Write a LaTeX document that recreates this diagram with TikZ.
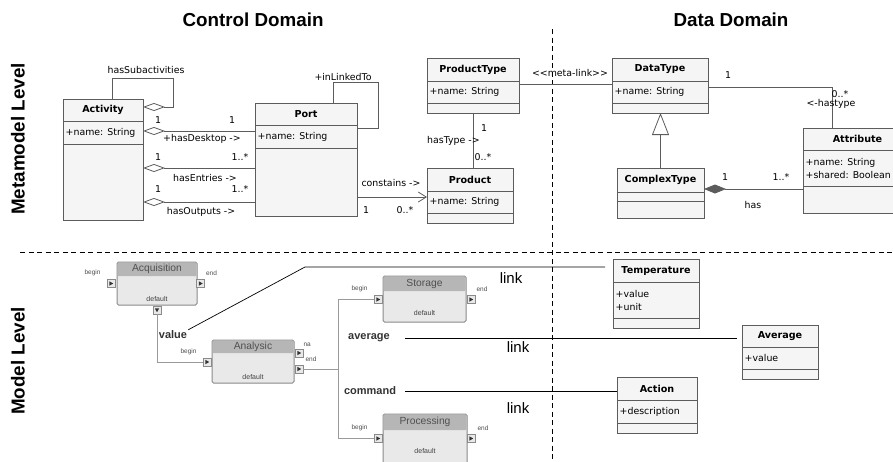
\documentclass[tikz,border=0pt]{standalone}
\usepackage{fontspec}
\setmainfont{DejaVu Sans}
\newfontfamily\arialfont{Liberation Sans}
\usetikzlibrary{arrows.meta,calc,fit}

\definecolor{umlline}{HTML}{5C5C5C}
\definecolor{umlfill}{HTML}{F5F5F5}
\definecolor{proctop}{HTML}{B6B6B6}
\definecolor{procbody}{HTML}{E9E9E9}
\definecolor{procedge}{HTML}{8A8A8A}
\definecolor{proctext}{HTML}{505050}
\definecolor{flowline}{HTML}{9A9A9A}

\newcommand\umltextstyle{\fontsize{9.4}{13}\selectfont}
\newcommand\umltitlestyle{\fontsize{9.6}{12}\selectfont\bfseries}
\newcommand\headstyle{\arialfont\fontsize{18.8}{20}\selectfont\bfseries}

\tikzset{
  classbox/.style={draw=umlline, line width=0.9pt},
  classtitle/.style={font=\umltitlestyle, inner sep=0pt},
  classattr/.style={font=\umltextstyle, align=left, inner sep=2.5pt, anchor=west},
  assoc/.style={draw=umlline, line width=0.8pt},
  aggr/.style={assoc, {Diamond[open,length=22pt,width=8pt]}-},
  compo/.style={assoc, {Diamond[length=22pt,width=9pt]}-},
  gener/.style={assoc, -{Triangle[open,length=22pt,width=17pt]}},
  navig/.style={assoc, -{Straight Barb[length=8pt,width=10pt]}},
  lbl/.style={font=\umltextstyle, inner sep=0pt},
  divider/.style={line width=0.9pt, dash pattern=on 5pt off 3.5pt},
  domaintitle/.style={font=\headstyle, inner sep=0pt},
  proctitle/.style={font=\arialfont\fontsize{10.3}{12}\selectfont, text=proctext, inner sep=0pt},
  procsmall/.style={font=\arialfont\fontsize{7}{8}\selectfont, text=black!75, inner sep=0pt},
  portlbl/.style={font=\arialfont\fontsize{6.5}{7}\selectfont, text=black!70, inner sep=0pt},
  portbox/.style={draw=procedge, fill=procbody, line width=0.7pt, minimum size=8pt, inner sep=0pt},
  flow/.style={draw=flowline, line width=1pt},
  linkline/.style={draw=black, line width=0.7pt},
  modellbl/.style={font=\arialfont\fontsize{11}{12}\selectfont\bfseries, text=black!80, inner sep=1pt},
  linklbl/.style={font=\arialfont\fontsize{15}{16}\selectfont, inner sep=0pt},
}

% name, left, top, right, title bottom, attribute bottom, bottom, title, attributes
\newcommand\umlclass[9]{
  \filldraw[classbox, fill=umlfill] (#2,#3) rectangle (#4,#7);
  \draw[classbox] (#2,#5) -- (#4,#5) (#2,#6) -- (#4,#6);
  \coordinate (#1-nw) at (#2,#3);
  \coordinate (#1-se) at (#4,#7);
  \node[fit=(#1-nw)(#1-se), inner sep=0pt, outer sep=0pt] (#1) {};
  \node[classtitle] (#1-title) at ({(#2+#4)/2},{(#3+#5)/2}) {#8};
  \node[classattr] (#1-attr) at (#2,{(#5+#6)/2}) {#9};
}

% name, left, top, right, head bottom, bottom, title
\newcommand\procbox[7]{
  \filldraw[fill=procbody, draw=procedge, line width=1pt, rounded corners=1.5pt] (#2,#3) rectangle (#4,#6);
  \fill[proctop, rounded corners=1pt] (#2+0.5,#3+0.5) rectangle (#4-0.5,#5);
  \coordinate (#1-nw) at (#2,#3);
  \coordinate (#1-se) at (#4,#6);
  \node[fit=(#1-nw)(#1-se), inner sep=0pt, outer sep=0pt] (#1) {};
  \node[proctitle] (#1-title) at ({(#2+#4)/2},{(#3+#5)/2}) {#7};
  \node[procsmall] (#1-default) at ({(#2+#4)/2},#3+37) {default};
}

% rotation, name, x, y
\newcommand\procport[4][0]{
  \node[portbox] (#2) at (#3,#4) {};
  \begin{scope}[shift={(#2.center)}, rotate=#1]
    \fill[black!80] (-1.6,-2.2) -- (2.2,0) -- (-1.6,2.2) -- cycle;
  \end{scope}
}

\begin{document}
\begin{tikzpicture}[x=1pt, y=-1pt]
  \useasboundingbox (0,0) rectangle (893,461);
  \clip (0,0) rectangle (893,461);

  % headings and dividers
  \node[domaintitle] (ctrl-head) at (253,20) {Control Domain};
  \node[domaintitle] (data-head) at (731,20) {Data Domain};
  \node[domaintitle, rotate=90] (meta-head) at (18,139) {Metamodel Level};
  \node[domaintitle, rotate=90] (model-head) at (18,361) {Model Level};
  \draw[divider] (552,29) -- (552,461);
  \draw[divider] (20,252) -- (893,252);

  % metamodel level
  \umlclass{activity}{63}{99}{143}{121}{144}{220}{Activity}{+name: String}
  \umlclass{port}{255}{103}{357}{125}{148}{216}{Port}{+name: String}
  \umlclass{producttype}{427}{58}{519}{81}{103}{113}{ProductType}{+name: String}
  \umlclass{product}{427}{168}{513}{191}{213}{223}{Product}{+name: String}
  \umlclass{datatype}{612}{58}{708}{81}{103}{113}{DataType}{+name: String}
  \umlclass{complextype}{617}{168}{704}{192}{201}{218}{ComplexType}{}
  \umlclass{attribute}{803}{128}{912}{150}{186}{213}{Attribute}{+name: String\\+shared: Boolean}

  \draw[aggr] ($(activity.north east)+(0,8)$) -- ++(30,0) -- ++(0,-29) -| ($(activity.north east)+(-31,0)$);
  \node[lbl] (sub-lbl) at (146,70) {hasSubactivities};

  \draw[aggr] ($(activity.north east)+(0,32)$) coordinate (desk-a) -- (desk-a -| port.west);
  \node[lbl] (desk-m1) at (158,120) {1};
  \node[lbl] (desk-m2) at (232,120) {1};
  \node[lbl] (desk-lbl) at (202,139) {+hasDesktop ->};

  \draw[aggr] ($(activity.north east)+(0,69)$) coordinate (entr-a) -- (entr-a -| port.west);
  \node[lbl] (entr-m1) at (158,157) {1};
  \node[lbl] (entr-m2) at (240,157) {1..*};
  \node[lbl] (entr-lbl) at (205,178) {hasEntries ->};

  \draw[aggr] ($(activity.north east)+(0,103)$) coordinate (outp-a) -- (outp-a -| port.west);
  \node[lbl] (outp-m1) at (158,189) {1};
  \node[lbl] (outp-m2) at (240,189) {1..*};
  \node[lbl] (outp-lbl) at (201,212) {hasOutputs ->};

  \draw[assoc] ($(port.north east)+(-24,0)$) -- ++(0,-21) -| ($(port.north east)+(21,25)$) -- ($(port.north east)+(0,25)$);
  \node[lbl] (link-lbl) at (343,77) {+inLinkedTo};

  \draw[navig] ($(port.north east)+(0,94)$) coordinate (cont-a) -- (cont-a -| product.west);
  \node[lbl] (cont-lbl) at (391,183) {constains ->};
  \node[lbl] (cont-m1) at (366,210) {1};
  \node[lbl] (cont-m2) at (405,210) {0..*};

  \draw[assoc] (producttype.south) -- (producttype.south |- product.north);
  \node[lbl] (type-m1) at (484,128) {1};
  \node[lbl, anchor=west] (type-lbl) at (427,141) {hasType ->};
  \node[lbl] (type-m2) at (483,157) {0..*};

  \draw[assoc] ($(producttype.north east)+(0,26)$) coordinate (meta-a) -- (meta-a -| datatype.west);
  \node[lbl] (meta-lbl) at (570,73) {{<}{<}meta-link{>}{>}};

  \draw[assoc] ($(datatype.north east)+(0,29)$) -| ($(attribute.north west)+(29,0)$);
  \node[lbl] (htyp-m1) at (728,75) {1};
  \node[lbl] (htyp-m2) at (840,94) {0..*};
  \node[lbl] (htyp-lbl) at (831,104) {<-hastype};

  \draw[gener] (complextype.north) -- (complextype.north |- datatype.south);

  \draw[compo] ($(complextype.north east)+(0,21)$) coordinate (has-a) -- (has-a -| attribute.west);
  \node[lbl] (has-m1) at (725,177) {1};
  \node[lbl] (has-m2) at (781,177) {1..*};
  \node[lbl] (has-lbl) at (753,205) {has};

  % model level
  \procbox{acq}{117}{262}{197}{276}{305}{Acquisition}
  \procbox{ana}{212}{340}{294}{353}{383}{Analysic}
  \procbox{sto}{383}{276}{466}{291}{322}{Storage}
  \procbox{pro}{383}{414}{467}{430}{475}{Processing}

  \procport{acq-begin}{111}{283.5}
  \procport{acq-end}{200.5}{283.5}
  \procport[-90]{acq-def}{157}{310}
  \procport{ana-begin}{207}{362}
  \procport{ana-na}{299}{353}
  \procport{ana-end}{299}{369}
  \procport{sto-begin}{378}{299.5}
  \procport{sto-end}{471}{299.5}
  \procport{pro-begin}{378}{438.5}
  \procport{pro-end}{471}{438.5}

  \node[portlbl, anchor=south east] (acq-begin-lbl) at ($(acq-begin.north west)+(-6,-3)$) {begin};
  \node[portlbl, anchor=south west] (acq-end-lbl) at ($(acq-end.north east)+(1,-3)$) {end};
  \node[portlbl, anchor=south east] (ana-begin-lbl) at ($(ana-begin.north west)+(-6,-3)$) {begin};
  \node[portlbl, anchor=south west] (ana-na-lbl) at ($(ana-na.north east)+(0,-1.5)$) {na};
  \node[portlbl, anchor=south west] (ana-end-lbl) at ($(ana-end.north east)+(2,-3)$) {end};
  \node[portlbl, anchor=south east] (sto-begin-lbl) at ($(sto-begin.north west)+(-6,-3)$) {begin};
  \node[portlbl, anchor=south west] (sto-end-lbl) at ($(sto-end.north east)+(1,-3)$) {end};
  \node[portlbl, anchor=south east] (pro-begin-lbl) at ($(pro-begin.north west)+(-6,-3)$) {begin};
  \node[portlbl, anchor=south west] (pro-end-lbl) at ($(pro-end.north east)+(2,-3)$) {end};

  \draw[flow] (acq-def.south) |- (ana-begin.west);
  \coordinate (trunk) at ($(ana-end.east)+(35,0)$);
  \draw[flow] (ana-end.east) -- (trunk);
  \draw[flow] (sto-begin.west) -| (trunk) |- (pro-begin.west);

  \umlclass{temperature}{613}{259}{699}{282}{318}{328}{Temperature}{+value\\+unit}
  \umlclass{average}{742}{325}{818}{347}{369}{379}{Average}{+value}
  \umlclass{action}{617}{377}{697}{400}{423}{433}{Action}{+description}

  \node[modellbl] (value-lbl) at (173,335) {value};
  \node[modellbl] (avg-lbl) at (369,338) {average};
  \node[modellbl] (cmd-lbl) at (370,391) {command};

  \coordinate (value-bend) at (305,267);
  \draw[linkline] (value-lbl.north east) -- (value-bend) -- ($(value-bend -| temperature.west)+(-8,0)$);
  \draw[linkline, shorten <=14pt, shorten >=5pt] (avg-lbl.east) -- (avg-lbl.east -| average.west);
  \draw[linkline, shorten <=8pt] (cmd-lbl.east) -- (cmd-lbl.east -| action.west);

  \node[linklbl] (link1) at (511,278) {link};
  \node[linklbl] (link2) at (518,347) {link};
  \node[linklbl] (link3) at (518,408) {link};
\end{tikzpicture}
\end{document}
